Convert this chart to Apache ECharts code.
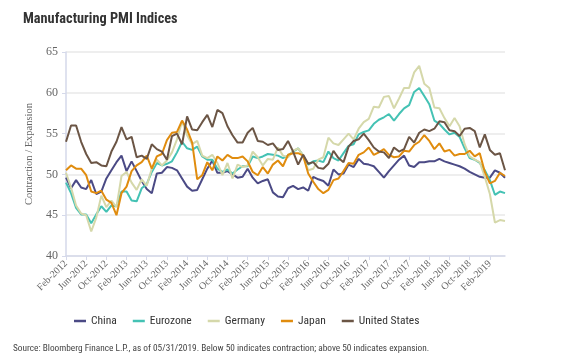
<!DOCTYPE html>
<html>
<head>
<meta charset="utf-8">
<script src="https://cdn.jsdelivr.net/npm/echarts@6/dist/echarts.min.js"></script>
<style>
html,body{margin:0;padding:0;background:#fff;}
#c{width:563px;height:360px;}
</style>
</head>
<body>
<div id="c"></div>
<script>
// Monthly categories Feb-2012 .. May-2019
var monthNames = ['Jan','Feb','Mar','Apr','May','Jun','Jul','Aug','Sep','Oct','Nov','Dec'];
var categories = [];
(function(){
  var y = 2012, m = 1;
  while (!(y === 2019 && m === 5)) {
    categories.push(monthNames[m] + '-' + y);
    m++; if (m === 12) { m = 0; y++; }
  }
})();

var china = [
  49.6, 48.3, 49.3, 48.4, 48.2, 49.3, 47.6, 47.9, 49.5, 50.5, 51.5,
  52.3, 50.4, 51.6, 50.4, 49.2, 48.2, 47.7, 50.1, 50.2, 50.9, 50.8, 50.5,
  49.5, 48.5, 48.0, 48.1, 49.4, 50.7, 51.7, 50.2, 50.2, 50.4, 50.0, 49.6,
  49.7, 50.7, 49.6, 48.9, 49.2, 49.4, 47.8, 47.3, 47.2, 48.3, 48.6, 48.2,
  48.4, 48.0, 49.7, 49.4, 49.2, 48.6, 50.6, 50.0, 50.1, 51.2, 50.9, 51.9,
  51.3, 51.2, 51.0, 50.3, 49.6, 50.4, 51.1, 51.8, 52.3, 51.1, 50.9, 51.5,
  51.5, 51.6, 51.6, 51.9, 51.6, 51.4, 51.2, 51.0, 50.7, 50.3, 50.0, 49.7,
  49.6, 49.6, 50.5, 50.2, 49.6
];
var eurozone = [
  49.0, 47.7, 45.9, 45.1, 45.1, 44.0, 45.1, 46.1, 45.4, 46.2, 46.1,
  47.9, 47.9, 46.8, 46.7, 48.3, 48.8, 50.3, 51.4, 51.1, 51.3, 51.6, 52.7,
  54.0, 53.2, 53.0, 53.4, 52.2, 51.8, 51.8, 50.7, 50.3, 50.6, 50.1, 50.6,
  51.0, 51.0, 52.2, 52.0, 52.2, 52.5, 52.4, 52.3, 52.0, 52.3, 52.8, 53.2,
  52.3, 51.2, 51.6, 51.7, 51.5, 52.8, 52.0, 51.7, 52.6, 53.5, 53.7, 54.9,
  55.2, 55.4, 56.2, 56.7, 57.0, 57.4, 56.6, 57.4, 58.1, 58.5, 60.1, 60.6,
  59.6, 58.6, 56.6, 56.2, 55.5, 54.9, 55.1, 54.6, 53.2, 52.0, 51.8, 51.4,
  50.5, 49.3, 47.5, 47.9, 47.7
];
var germany = [
  50.2, 48.4, 46.2, 45.2, 45.0, 43.0, 44.7, 47.4, 46.0, 46.8, 46.0,
  49.8, 50.3, 49.0, 48.1, 49.4, 48.6, 50.7, 51.8, 51.1, 51.7, 52.7, 54.3,
  56.5, 54.8, 53.7, 54.1, 52.3, 52.0, 52.4, 51.4, 49.9, 51.4, 49.5, 51.2,
  50.9, 51.1, 52.8, 52.1, 51.1, 51.9, 51.8, 53.3, 52.3, 52.1, 52.9, 53.2,
  52.3, 50.5, 50.7, 51.8, 52.1, 54.5, 53.8, 53.6, 54.3, 55.0, 54.3, 55.6,
  56.4, 56.8, 58.3, 58.2, 59.5, 59.6, 58.1, 59.3, 60.6, 60.6, 62.5, 63.3,
  61.1, 60.6, 58.2, 58.1, 56.9, 55.9, 56.9, 55.9, 53.7, 52.2, 51.8, 51.5,
  49.7, 47.6, 44.1, 44.4, 44.3
];
var japan = [
  50.5, 51.1, 50.7, 50.7, 49.9, 47.9, 47.7, 48.0, 46.9, 46.5, 45.0,
  47.7, 48.5, 50.4, 51.1, 51.5, 52.3, 50.7, 52.2, 52.5, 54.2, 55.1, 55.2,
  56.6, 55.5, 53.9, 49.4, 49.9, 51.5, 50.5, 52.2, 51.7, 52.4, 52.0, 52.0,
  52.2, 51.6, 50.3, 49.9, 50.9, 50.1, 51.2, 51.7, 51.0, 52.4, 52.6, 52.6,
  52.3, 50.1, 49.1, 48.2, 47.7, 48.1, 49.3, 49.5, 50.4, 51.4, 51.3, 52.4,
  52.7, 53.3, 52.4, 52.7, 53.1, 52.4, 52.1, 52.2, 52.9, 52.8, 53.6, 54.0,
  54.8, 54.1, 53.1, 53.8, 52.8, 53.0, 52.3, 52.5, 52.5, 52.9, 52.2, 52.6,
  50.3, 48.9, 49.2, 50.2, 49.8
];
var unitedStates = [
  54.0, 56.0, 56.0, 54.0, 52.5, 51.4, 51.5, 51.1, 51.0, 52.8, 54.0,
  55.8, 54.3, 54.6, 52.1, 52.3, 51.9, 53.7, 53.1, 52.8, 51.8, 54.7, 55.0,
  53.7, 57.1, 55.5, 55.4, 56.4, 57.3, 55.8, 57.9, 57.5, 55.9, 54.8, 53.9,
  53.9, 55.1, 55.7, 54.1, 54.0, 53.6, 53.8, 53.0, 53.1, 54.1, 52.8, 51.2,
  52.4, 51.3, 51.5, 50.8, 50.7, 51.3, 52.9, 52.0, 51.5, 53.4, 54.1, 54.3,
  55.0, 54.2, 53.3, 52.8, 52.7, 52.0, 53.3, 52.8, 53.1, 54.6, 53.9, 55.1,
  55.5, 55.3, 55.6, 56.5, 56.4, 55.4, 55.3, 54.7, 55.6, 55.7, 55.3, 53.3,
  54.9, 53.0, 52.4, 52.6, 50.5
];

var seriesNames = ['China', 'Eurozone', 'Germany', 'Japan', 'United States'];
var seriesData = [china, eurozone, germany, japan, unitedStates];
var seriesColors = ['#4b4a85', '#44c2b4', '#d5d8aa', '#e08c0e', '#6b5545'];

var chart = echarts.init(document.getElementById('c'), null, {renderer: 'canvas'});
var serif = '"Liberation Serif", "DejaVu Serif", serif';
var narrow = '"Roboto Condensed", "DejaVu Sans Condensed", sans-serif';

chart.setOption({
  animation: false,
  backgroundColor: '#ffffff',
  title: [
    { text: 'Manufacturing PMI Indices', left: 18, top: 7,
      textStyle: { fontFamily: narrow, fontSize: 14.3, fontWeight: 'bold', color: '#333' } },
    { text: 'Source: Bloomberg Finance L.P., as of 05/31/2019. Below 50 indicates contraction; above 50 indicates expansion.',
      left: 8, top: 339,
      textStyle: { fontFamily: narrow, fontSize: 9.3, fontWeight: 'normal', color: '#444' } }
  ],
  legend: {
    data: seriesNames.map(function(n){ return { name: n, icon: 'rect' }; }),
    left: 69, top: 310,
    itemWidth: 12, itemHeight: 2.5, itemGap: 16,
    textStyle: { fontFamily: narrow, fontSize: 11.5, color: '#333' }
  },
  grid: { left: 66, right: 58, top: 52, bottom: 104, containLabel: false },
  xAxis: {
    type: 'category',
    data: categories,
    boundaryGap: false,
    axisLine: { lineStyle: { color: '#d5d9ea', width: 1.5 } },
    axisTick: { interval: 3, length: 4, lineStyle: { color: '#d5d9ea' } },
    axisLabel: { interval: 3, rotate: 45, fontFamily: serif, fontSize: 10, color: '#666', margin: 6 },
    splitLine: { show: false }
  },
  yAxis: {
    type: 'value',
    min: 40, max: 65, interval: 5,
    name: 'Contraction / Expansion',
    nameLocation: 'middle',
    nameGap: 29,
    nameTextStyle: { fontFamily: serif, fontSize: 10.5, color: '#666' },
    axisLine: { show: true, lineStyle: { color: '#d5d9ea', width: 1.5 } },
    axisTick: { show: true, length: 4, lineStyle: { color: '#d5d9ea' } },
    axisLabel: { fontFamily: serif, fontSize: 12, color: '#666', margin: 8 },
    splitLine: { lineStyle: { color: '#e8e8e8', width: 1.5 } }
  },
  series: seriesNames.map(function(n, k){
    return {
      name: n, type: 'line', data: seriesData[k],
      symbol: 'none', smooth: false,
      lineStyle: { width: 2, color: seriesColors[k] },
      itemStyle: { color: seriesColors[k] }
    };
  })
});
</script>
</body>
</html>
